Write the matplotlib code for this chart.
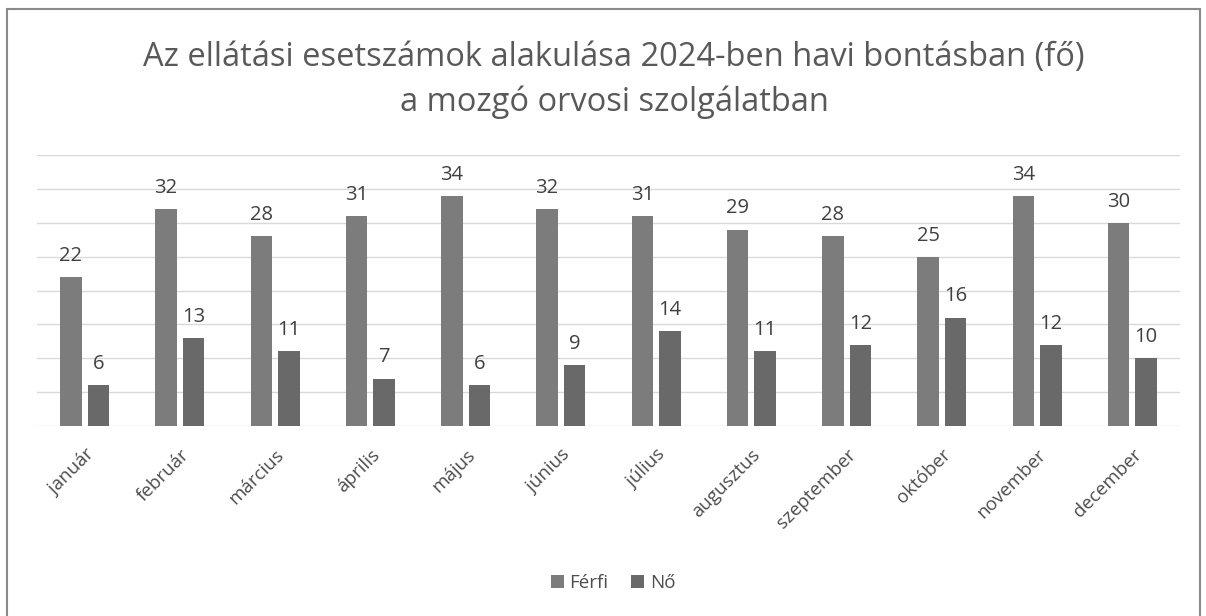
import numpy as np
import matplotlib.pyplot as plt
from matplotlib.patches import Rectangle

plt.rcParams['font.family'] = ['Open Sans', 'DejaVu Sans']

honapok = ['január', 'február', 'március', 'április', 'május', 'június',
           'július', 'augusztus', 'szeptember', 'október', 'november', 'december']
ferfi = [22, 32, 28, 31, 34, 32, 31, 29, 28, 25, 34, 30]
no = [6, 13, 11, 7, 6, 9, 14, 11, 12, 16, 12, 10]

fig = plt.figure(figsize=(12.06, 6.16), dpi=100)
ax = fig.add_axes([37 / 1206, 1 - 426 / 616, (1180 - 37) / 1206, (426 - 155) / 616])

x = np.arange(len(honapok))
w = 0.225
b1 = ax.bar(x - 0.145, ferfi, w, color='#7c7c7c', label='Férfi', zorder=3)
b2 = ax.bar(x + 0.145, no, w, color='#696969', label='Nő', zorder=3)

for bars in (b1, b2):
    ax.bar_label(bars, padding=8, fontsize=14.5, color='#404040')

ax.set_xlim(-0.5, len(honapok) - 0.5)
ax.set_ylim(0, 40)
ax.set_yticks(np.arange(0, 41, 5))
ax.yaxis.grid(True, color='#d9d9d9', linewidth=1, zorder=0)
ax.tick_params(axis='y', left=False, labelleft=False)
ax.tick_params(axis='x', length=0, pad=14, labelsize=13.5, labelcolor='#4d4d4d')
ax.set_xticks(x)
ax.set_xticklabels(honapok, rotation=45, ha='right', rotation_mode='anchor')
for s in ax.spines.values():
    s.set_visible(False)

fig.text(614 / 1206, 1 - 80 / 616,
         'Az ellátási esetszámok alakulása 2024-ben havi bontásban (fő)\na mozgó orvosi szolgálatban',
         ha='center', va='center', fontsize=23.5, color='#595959', linespacing=1.42)

fig.legend(handles=[b1, b2], loc='center', bbox_to_anchor=(613 / 1206, 1 - 583 / 616),
           ncol=2, frameon=False, fontsize=13.5, labelcolor='#4d4d4d',
           handlelength=0.7, handleheight=0.7, handletextpad=0.3, columnspacing=1.2)

fig.patches.append(Rectangle((7 / 1206, -0.1), (1200 - 7) / 1206, 1 - 9 / 616 + 0.1,
                             transform=fig.transFigure, fill=False,
                             edgecolor='#8a8a8a', linewidth=1.5))

fig.savefig('out.png', dpi=100)
